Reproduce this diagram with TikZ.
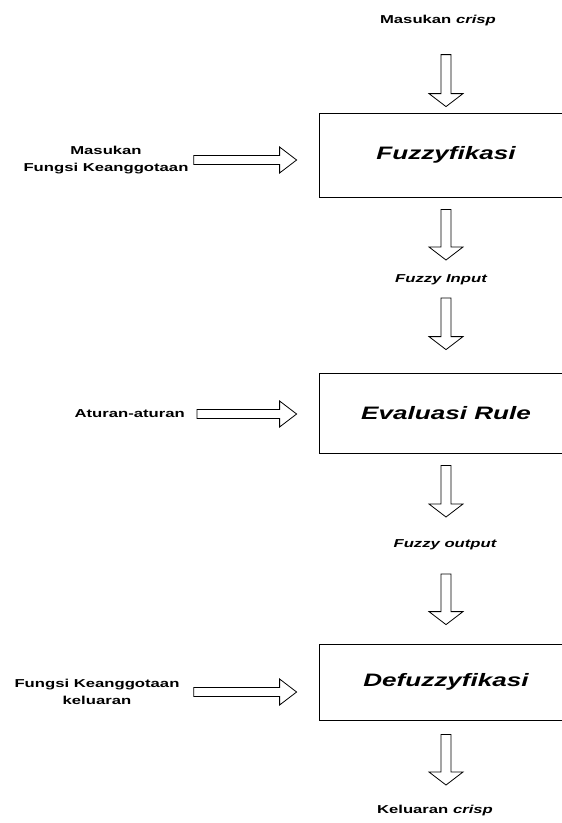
\documentclass[tikz,border=0pt]{standalone}
\usepackage{fontspec}
\setmainfont{Liberation Sans}[FakeStretch=1.45]
\usepackage{tikz}
\usetikzlibrary{calc}

\begin{document}
\begin{tikzpicture}[x=1pt,y=1pt,
  lbl/.style={font=\fontsize{11.5}{17}\selectfont\bfseries, align=center, inner sep=0pt},
  stage/.style={draw, line width=0.8pt, minimum width=254pt, minimum height=#1,
    font=\fontsize{18}{20}\selectfont\bfseries\itshape},
  hollowdown/.style={line width=0.8pt, to path={let \p1=(\tikztostart), \p2=(\tikztotarget) in
    (\x1-5pt,\y1) -- (\x1-5pt,\y2+13pt) -- (\x1-17pt,\y2+13pt) -- (\x1,\y2)
    -- (\x1+17pt,\y2+13pt) -- (\x1+5pt,\y2+13pt) -- (\x1+5pt,\y1) -- cycle}},
  hollowright/.style={line width=0.8pt, to path={let \p1=(\tikztostart), \p2=(\tikztotarget) in
    (\x1,\y1-4.5pt) -- (\x2-17pt,\y1-4.5pt) -- (\x2-17pt,\y1-13pt) -- (\x2,\y1)
    -- (\x2-17pt,\y1+13pt) -- (\x2-17pt,\y1+4.5pt) -- (\x1,\y1+4.5pt) -- cycle}}]
  \useasboundingbox (0,0) rectangle (562,-823);
  \clip (0,0) rectangle (562,-823);
  % processing stages
  \path (446,-155) node (fuzz) [stage=84pt] {Fuzzyfikasi};
  \path (446,-413) node (eval) [stage=80pt] {Evaluasi Rule};
  \path (446,-682) node (defuzz) [stage=76pt] {Defuzzyfikasi};
  % labels along the main flow
  \path (438,-23.5) node (crispin) [lbl, anchor=base] {Masukan \textit{crisp}};
  \path (441,-282) node (fzin) [lbl, anchor=base] {\itshape Fuzzy Input};
  \path (445,-547) node (fzout) [lbl, anchor=base] {\itshape Fuzzy output};
  \path (435,-813) node (crispout) [lbl, anchor=base] {Keluaran \textit{crisp}};
  % side inputs
  \path (106,-160) node (mfk) [lbl] {Masukan\\Fungsi Keanggotaan};
  \path (185,-414) node (atr) [lbl, anchor=east] {Aturan-aturan};
  \path (97,-692) node (fkk) [lbl] {Fungsi Keanggotaan\\keluaran};
  % main flow arrows
  \draw[hollowdown] ($(fuzz.north)+(0,58)$) to ($(fuzz.north)+(0,6)$);
  \draw[hollowdown] ($(fuzz.south)+(0,-12)$) to ($(fzin.base)+(0,22)$);
  \draw[hollowdown] ($(fzin.base -| eval.north)+(0,-16)$) to ($(eval.north)+(0,23)$);
  \draw[hollowdown] ($(eval.south)+(0,-12)$) to ($(fzout.base)+(0,30)$);
  \draw[hollowdown] ($(fzout.base -| defuzz.north)+(0,-27)$) to ($(defuzz.north)+(0,19)$);
  \draw[hollowdown] ($(defuzz.south)+(0,-14)$) to ($(crispout.base)+(0,28)$);
  % side arrows
  \draw[hollowright] ($(mfk.east)+(5,0)$) to ($(fuzz.west)+(-22,0)$);
  \draw[hollowright] ($(atr.east)+(12,0)$) to ($(eval.west)+(-22,0)$);
  \draw[hollowright] ($(fkk.east)+(14,0)$) to ($(defuzz.west)+(-22,0)$);
\end{tikzpicture}
\end{document}
